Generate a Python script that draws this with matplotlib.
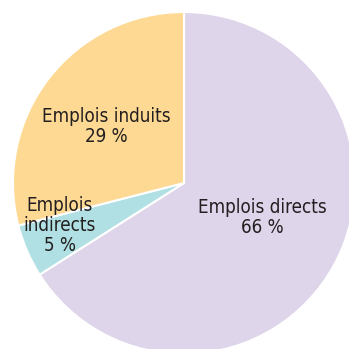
import matplotlib
matplotlib.use("Agg")
import matplotlib.pyplot as plt

categories = ["Emplois directs", "Emplois indirects", "Emplois induits"]
values = [66, 5, 29]
label_texts = ["Emplois directs\n66 %", "Emplois\nindirects\n5 %", "Emplois induits\n29 %"]
colors = ["#DED5EA", "#B0E0E3", "#FED993"]

plt.rcParams['font.family'] = ['DejaVu Sans']

fig = plt.figure(figsize=(3.49, 3.49), dpi=100)
W = 349.0
cx, cy, r = 184.0, 183.0, 171.0
ax = fig.add_axes([(cx - r) / W, (W - cy - r) / W, 2 * r / W, 2 * r / W])
wedges, _ = ax.pie(values, colors=colors, startangle=90, counterclock=False,
                   radius=1, wedgeprops=dict(edgecolor="white", linewidth=1.5))
ax.set_xlim(-1, 1)
ax.set_ylim(-1, 1)
ax.set_aspect("equal")
ax.axis("off")

positions = [(0.46, -0.2), (-0.725, -0.25), (-0.456, 0.33)]
for txt, (x, y) in zip(label_texts, positions):
    ax.text(x, y, txt, ha="center", va="center", fontsize=13.5, color="#231F20",
            linespacing=1.06, fontstretch="condensed")

fig.savefig("out.png", dpi=100)
